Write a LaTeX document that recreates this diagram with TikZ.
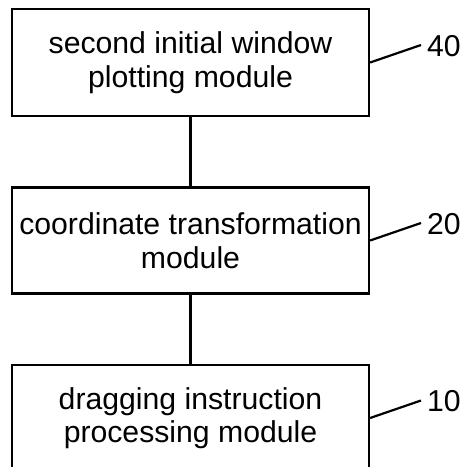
\documentclass[tikz,border=0pt]{standalone}
\usepackage{fontspec}
\setmainfont{Liberation Sans}
\begin{document}
\begin{tikzpicture}[x=1pt,y=-1pt,
  module/.style={draw=black,line width=2.2pt,minimum width=357pt,inner sep=0pt,
    align=center,font=\fontsize{30.2}{33.5}\selectfont},
  refnum/.style={anchor=west,inner sep=0pt,font=\fontsize{30.2}{33.5}\selectfont},
  link/.style={draw=black,line width=2.2pt}]
\useasboundingbox (0,0) rectangle (467,467);
\clip (0,0) rectangle (467,467);
% three stacked modules
\node[module,minimum height=107pt] (m40) at (190.5,62.5) {second initial window\\plotting module};
\node[module,minimum height=106pt] (m20) at (190.5,240.5) {coordinate transformation\\module};
\node[module,minimum height=106pt] (m10) at (190.5,418) {dragging instruction\\processing module};
% vertical links between modules
\draw[link] (m40.south) -- (m20.north);
\draw[link] (m20.south) -- (m10.north);
% reference numerals with leader lines
\node[refnum] (n40) at (427,46) {40};
\node[refnum] (n20) at (427,224) {20};
\node[refnum] (n10) at (427,401.5) {10};
\coordinate (e40) at (421,45);
\coordinate (e20) at (421,223);
\coordinate (e10) at (421,400.5);
\draw[link] (m40.east) -- (e40);
\draw[link] (m20.east) -- (e20);
\draw[link] (m10.east) -- (e10);
\end{tikzpicture}
\end{document}
